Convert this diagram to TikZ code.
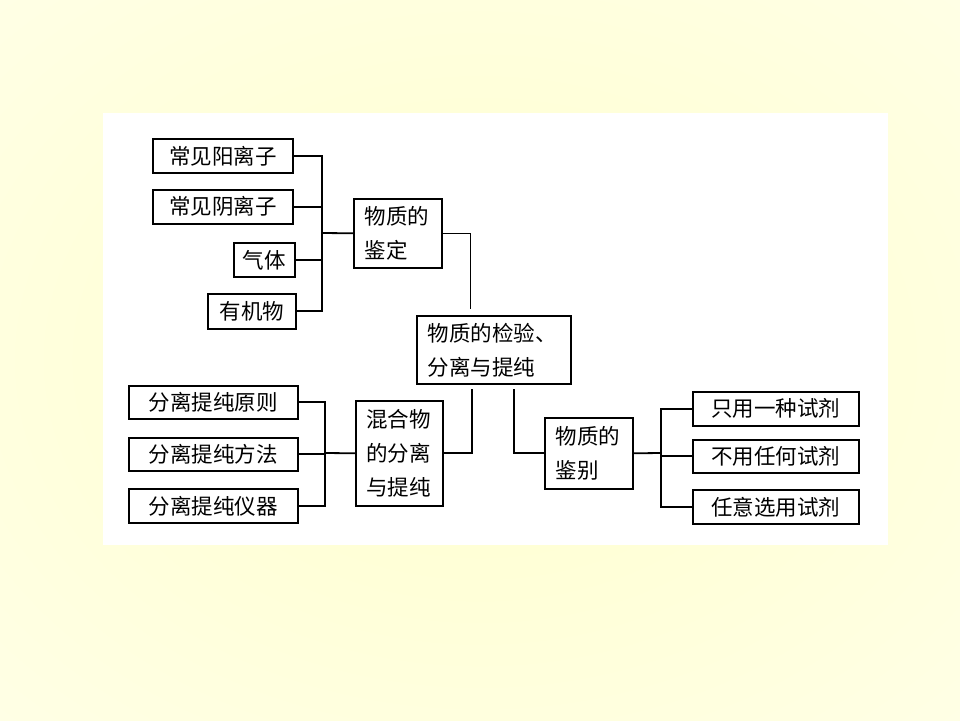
\documentclass[tikz,border=0pt]{standalone}
\usepackage{fontspec}
\newfontfamily\cjk{Noto Sans CJK SC}
\definecolor{bgin}{HTML}{FFFFD4}
\definecolor{bgout}{HTML}{FFFFF2}
\pgfdeclareradialshading{slidebg}{\pgfpoint{0bp}{0bp}}{color(0bp)=(bgin); color(10bp)=(bgin); color(55bp)=(bgout); color(71bp)=(bgout)}
\tikzset{
  box/.style={draw, line width=1.6pt, fill=white, anchor=north west, inner sep=0pt,
    font=\cjk\fontsize{21.5}{34}\selectfont},
  twoline/.style={text width=66pt, align=left},
  link/.style={line width=1.8pt},
  thinlink/.style={line width=0.9pt},
}
\begin{document}
\begin{tikzpicture}[x=1pt, y=-1pt]
\useasboundingbox (0,0) rectangle (960,720);
\shade[shading=slidebg] (0,0) rectangle (960,720);
\fill[white] (103,113) rectangle (888,545);
% top left: identification
\node[box, minimum width=140pt, minimum height=34pt] (yang) at (152,138) {常见阳离子};
\node[box, minimum width=140pt, minimum height=34pt] (yin) at (152,189) {常见阴离子};
\node[box, minimum width=61pt, minimum height=34pt] (qiti) at (233,242) {气体};
\node[box, minimum width=88pt, minimum height=35pt] (youji) at (207,293) {有机物};
\node[box, twoline, minimum width=88pt, minimum height=69pt] (jianding) at (353,198) {物质的\\鉴定};
% centre
\node[box, text width=132pt, align=left, minimum width=154pt, minimum height=68pt] (main) at (416,315) {物质的检验、\\分离与提纯};
% bottom left: separation
\node[box, minimum width=169pt, minimum height=33pt] (yuanze) at (128,385) {分离提纯原则};
\node[box, minimum width=169pt, minimum height=33pt] (fangfa) at (128,437) {分离提纯方法};
\node[box, minimum width=169pt, minimum height=34pt] (yiqi) at (128,488) {分离提纯仪器};
\node[box, twoline, minimum width=87pt, minimum height=105pt] (hunhe) at (355,400) {混合物\\的分离\\与提纯};
% bottom right: distinguishing
\node[box, twoline, minimum width=88pt, minimum height=71pt] (jianbie) at (544,417) {物质的\\鉴别};
\node[box, minimum width=166pt, minimum height=34pt] (yizhong) at (692,391) {只用一种试剂};
\node[box, minimum width=166pt, minimum height=33pt] (buyong) at (692,439) {不用任何试剂};
\node[box, minimum width=166pt, minimum height=34pt] (renyi) at (692,489) {任意选用试剂};
% buses
\coordinate (busA) at (322,233);
\coordinate (busB) at (325,453);
\coordinate (busC) at (661,453);
\foreach \n in {yang,yin,qiti,youji} \draw[link] (\n.east) -| (busA);
\draw[link] (busA) -- (jianding.west);
\foreach \n in {yuanze,fangfa,yiqi} \draw[link] (\n.east) -| (busB);
\draw[link] (busB) -- (hunhe.west);
\draw[link] (jianbie.east) -- (busC);
\foreach \n in {yizhong,buyong,renyi} \draw[link] (\n.west) -| (busC);
% links to the centre box
\coordinate (mA) at (470,315);
\coordinate (mB) at (472,383);
\coordinate (mC) at (514,383);
\draw[thinlink, shorten >=6pt] (jianding.east) -| (mA);
\draw[link, shorten <=6pt] (mB) |- (hunhe.east);
\draw[link, shorten <=6pt] (mC) |- (jianbie.west);
\end{tikzpicture}
\end{document}
